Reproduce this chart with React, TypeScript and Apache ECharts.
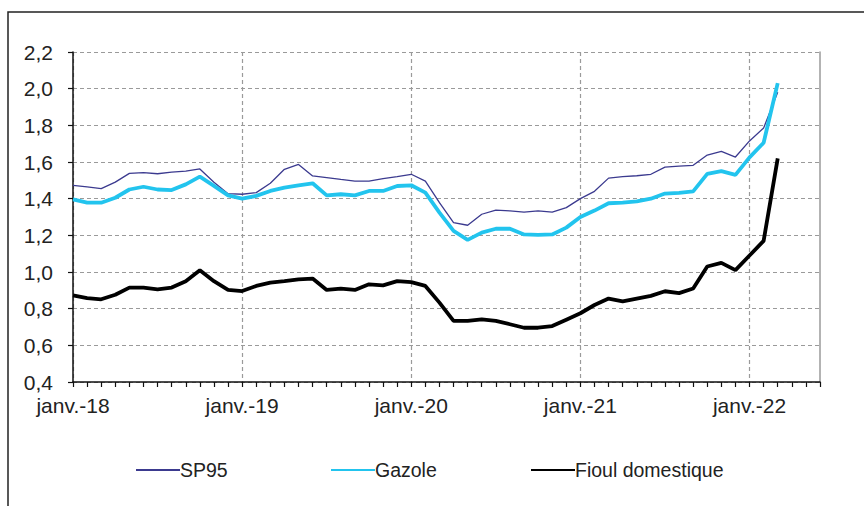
import React, { useEffect, useRef } from "react";
import * as echarts from "echarts";

const monthNames = ["janv.", "févr.", "mars", "avr.", "mai", "juin", "juil.", "août", "sept.", "oct.", "nov.", "déc."];
const years = ["18", "19", "20", "21", "22"];
const lastMonthIndex = 5; // axis runs to juin-22

const categories: string[] = [];
years.forEach((y, yi) => {
  monthNames.forEach((m, mi) => {
    if (yi < years.length - 1 || mi <= lastMonthIndex) categories.push(`${m}-${y}`);
  });
});

const sp95 = [
  1.473, 1.464, 1.455, 1.49, 1.538, 1.542, 1.536, 1.545, 1.55, 1.562, 1.49, 1.427,
  1.424, 1.433, 1.484, 1.56, 1.587, 1.524, 1.515, 1.505, 1.496, 1.496, 1.509, 1.52,
  1.533, 1.496, 1.378, 1.269, 1.255, 1.315, 1.338, 1.333, 1.327, 1.333, 1.327, 1.351,
  1.4, 1.44, 1.512, 1.52, 1.525, 1.533, 1.572, 1.578, 1.582, 1.638, 1.658, 1.627,
  1.715, 1.785, 1.98,
];

const gazole = [
  1.396, 1.378, 1.378, 1.405, 1.45, 1.465, 1.45, 1.447, 1.478, 1.52, 1.47, 1.418,
  1.4, 1.415, 1.442, 1.46, 1.473, 1.484, 1.418, 1.424, 1.418, 1.442, 1.442, 1.469,
  1.473, 1.433, 1.324, 1.224, 1.175, 1.215, 1.236, 1.236, 1.205, 1.202, 1.205, 1.242,
  1.3, 1.335, 1.375, 1.378, 1.385, 1.4, 1.428, 1.432, 1.44, 1.535, 1.55, 1.53,
  1.625, 1.705, 2.03,
];

const fioul = [
  0.873, 0.858, 0.851, 0.876, 0.915, 0.915, 0.905, 0.915, 0.95, 1.009, 0.95, 0.902,
  0.896, 0.924, 0.942, 0.95, 0.96, 0.964, 0.902, 0.909, 0.902, 0.933, 0.927, 0.95,
  0.945, 0.924, 0.833, 0.733, 0.733, 0.742, 0.733, 0.715, 0.696, 0.696, 0.705, 0.74,
  0.775, 0.82, 0.855, 0.84, 0.855, 0.87, 0.895, 0.885, 0.91, 1.03, 1.05, 1.01,
  1.09, 1.17, 1.62,
];

const seriesNames = ["SP95", "Gazole", "Fioul domestique"];
const seriesColors = ["#3b3a8f", "#22c4ee", "#000000"];
const seriesWidths = [1.3, 3.8, 3.8];
const legendLefts = [130, 325, 525];

const FONT = "'Liberation Sans', Arial, sans-serif";

export default function App() {
  const ref = useRef<HTMLDivElement>(null);
  useEffect(() => {
    if (!ref.current) return;
    const chart = echarts.init(ref.current, undefined, { renderer: "svg" });
    const gridDash = { color: "#9a9a9a", width: 1.2, type: [4, 3] as any };
    const seriesData = [sp95, gazole, fioul];
    chart.setOption({
      animation: false,
      backgroundColor: "#ffffff",
      textStyle: { fontFamily: FONT },
      graphic: [
        {
          type: "rect",
          shape: { x: 8, y: 12, width: 1000, height: 700 },
          style: { fill: "none", stroke: "#222", lineWidth: 1.5 },
          silent: true,
        },
      ],
      grid: { left: 73, right: 44, top: 52, bottom: 124, containLabel: false },
      legend: seriesNames.map((name, i) => ({
        left: legendLefts[i],
        top: 455,
        itemWidth: 44,
        itemHeight: 14,
        itemStyle: { opacity: 0 },
        textStyle: { fontSize: 19.5, color: "#222", fontFamily: FONT, padding: [0, 0, 0, -5] },
        data: [name],
      })),
      xAxis: {
        type: "category",
        data: categories,
        boundaryGap: false,
        axisLine: { show: true, lineStyle: { color: "#111", width: 1.5 } },
        axisTick: { show: true, interval: 0, length: 5, inside: false, lineStyle: { color: "#111", width: 1.2 } },
        axisLabel: {
          interval: 11,
          margin: 13,
          fontSize: 21,
          color: "#222",
          fontFamily: FONT,
        },
        splitLine: { show: true, interval: 11, lineStyle: gridDash },
      },
      yAxis: [
        {
          type: "value",
          min: 0.4,
          max: 2.2,
          interval: 0.2,
          axisLine: { show: true, lineStyle: { color: "#111", width: 1.5 } },
          axisTick: { show: true, length: 5, inside: false, lineStyle: { color: "#111", width: 1.2 } },
          axisLabel: {
            margin: 20,
            fontSize: 21,
            color: "#222",
            fontFamily: FONT,
            formatter: (v: number) => v.toFixed(1).replace(".", ","),
          },
          splitLine: { show: true, lineStyle: gridDash },
        },
        {
          type: "value",
          min: 0.4,
          max: 2.2,
          interval: 0.2,
          position: "right",
          axisLine: { show: true, lineStyle: { color: "#9a9a9a", width: 1.5 } },
          axisTick: { show: false },
          axisLabel: { show: false },
          splitLine: { show: false },
        },
      ],
      series: seriesNames.map((name, i) => ({
        name,
        type: "line",
        data: seriesData[i],
        symbol: "none",
        lineStyle: { color: seriesColors[i], width: seriesWidths[i] },
        itemStyle: { color: seriesColors[i] },
        z: 2 + i,
      })),
    });
    return () => chart.dispose();
  }, []);
  return (
    <div
      ref={ref}
      style={{ position: "fixed", left: 0, top: 0, width: 864, height: 506, background: "#fff" }}
    />
  );
}
